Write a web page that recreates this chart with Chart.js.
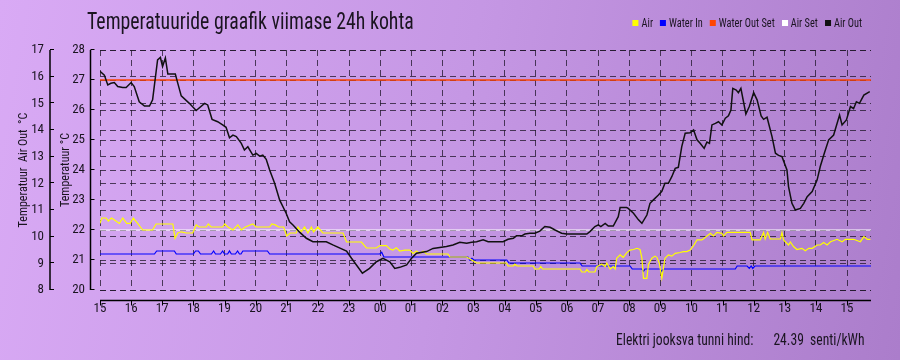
<!DOCTYPE html>
<html><head><meta charset="utf-8">
<script src="https://cdn.jsdelivr.net/npm/chart.js@4.4.1/dist/chart.umd.min.js"></script>
<style>
html,body{margin:0;padding:0;}
body{width:900px;height:360px;overflow:hidden;position:relative;
 background:linear-gradient(100deg,#d9aaf5 0%,#c597e4 50%,#ab7dcb 100%);
 font-family:"Roboto Condensed","DejaVu Sans Condensed",sans-serif;color:#1a1420;}
#c{position:absolute;left:0;top:0;}
#title{position:absolute;left:87px;top:7px;font-size:24px;white-space:nowrap;transform:scaleX(0.825);transform-origin:0 0;}
#legend{position:absolute;right:38px;top:15.5px;display:flex;align-items:center;font-size:12px;white-space:nowrap;transform:scaleX(0.86);transform-origin:100% 0;}
#legend .it{display:flex;align-items:center;margin-left:8.2px;}
#legend .bx{width:7px;height:6px;margin-right:3.5px;}
#price{position:absolute;left:616px;top:329px;font-size:17px;white-space:nowrap;transform:scaleX(0.8);transform-origin:0 0;}
#price .v{margin-left:25px;}
</style></head>
<body>
<canvas id="c" width="900" height="360"></canvas>
<div id="title">Temperatuuride graafik viimase 24h kohta</div>
<div id="legend"></div>
<div id="price"><span>Elektri jooksva tunni hind:</span><span class="v"></span></div>
<script>
const hourLabels = ['15','16','17','18','19','20','21','22','23','00','01','02','03','04','05','06','07','08','09','10','11','12','13','14','15'];
const xMax = 24.77;
const tempTicks = [20,21,22,23,24,25,26,27,28];
const airOutTicks = [8,9,10,11,12,13,14,15,16,17];

const airOutT = [0.00,0.14,0.25,0.35,0.46,0.57,0.73,0.84,1.00,1.10,1.26,1.43,1.59,1.69,1.85,1.94,2.01,2.10,2.18,2.42,2.50,2.61,2.87,3.09,3.36,3.46,3.60,3.78,3.94,4.05,4.16,4.27,4.38,4.54,4.64,4.75,4.91,5.02,5.13,5.23,5.34,5.45,5.61,5.77,5.98,6.09,6.20,6.42,6.63,6.84,7.27,7.48,7.92,8.08,8.43,8.66,8.88,9.09,9.31,9.47,9.63,9.85,10.01,10.17,10.49,10.70,11.13,11.34,11.56,11.78,11.94,12.10,12.31,12.47,12.95,13.11,13.28,13.38,13.55,13.65,13.81,13.97,14.13,14.29,14.46,14.62,14.83,14.99,15.64,15.74,15.90,16.01,16.09,16.23,16.33,16.49,16.65,16.71,16.92,16.97,17.14,17.30,17.41,17.57,17.67,17.78,17.94,18.05,18.15,18.26,18.37,18.48,18.58,18.69,18.80,18.96,19.07,19.18,19.28,19.41,19.50,19.58,19.66,19.77,19.87,19.98,20.09,20.19,20.27,20.33,20.44,20.51,20.59,20.75,20.86,21.00,21.11,21.24,21.32,21.43,21.59,21.70,21.80,21.91,22.07,22.12,22.23,22.34,22.50,22.61,22.72,22.88,23.04,23.14,23.27,23.41,23.57,23.76,23.84,23.98,24.11,24.21,24.30,24.40,24.54,24.73];
const airOutV = [16.2,16.06,15.69,15.75,15.78,15.63,15.59,15.59,15.78,15.63,15.06,14.9,14.9,15.13,16.63,16.72,16.38,16.7,16.1,16.1,15.75,15.28,15.0,14.73,15.0,14.94,14.4,14.31,14.19,14.1,13.71,13.81,13.75,13.5,13.25,13.37,13.06,13.12,13.02,13.06,12.9,12.5,12.0,11.38,10.88,10.56,10.44,10.16,9.94,9.81,9.81,9.69,9.46,9.19,8.63,8.81,9.06,9.19,9.06,8.81,8.85,8.94,9.19,9.38,9.44,9.56,9.63,9.69,9.79,9.75,9.79,9.81,9.88,9.81,9.81,9.9,9.94,10.03,10.03,10.1,10.13,10.13,10.21,10.38,10.35,10.25,10.13,10.1,10.1,10.19,10.38,10.44,10.38,10.5,10.4,10.4,10.75,11.09,11.09,11.06,10.88,10.63,10.5,10.81,11.25,11.38,11.56,11.7,12.0,12.0,12.25,12.56,12.6,13.38,13.88,13.9,14.0,13.63,13.5,13.31,13.55,13.5,14.19,14.25,14.31,14.19,14.44,14.53,14.75,15.56,15.5,15.4,15.56,14.6,14.88,15.4,15.13,14.53,14.4,14.48,13.75,13.13,13.05,13.0,12.5,11.88,11.25,11.0,11.06,11.25,11.5,11.69,12.13,12.63,13.13,13.63,13.81,14.56,14.19,14.38,14.88,14.8,15.06,15.0,15.31,15.44];

const airT = [0.00,0.06,0.19,0.27,0.37,0.51,0.62,0.73,0.86,0.97,1.07,1.21,1.37,1.69,1.80,2.34,2.41,2.50,2.61,2.77,2.98,3.09,3.19,3.41,3.48,3.57,3.94,4.01,4.11,4.27,4.43,4.54,4.67,4.91,5.02,5.45,5.52,5.63,5.74,5.90,6.00,6.11,6.31,6.36,6.47,6.57,6.68,6.79,6.86,7.00,7.16,7.81,7.92,8.40,8.56,8.88,8.99,9.20,9.31,9.41,9.52,9.63,9.79,9.95,10.06,10.17,10.27,10.38,10.49,11.18,11.24,11.78,11.94,12.10,13.06,13.11,13.28,13.33,13.40,13.92,13.97,14.11,14.16,14.22,15.42,15.48,15.59,15.64,15.71,15.90,15.96,16.12,16.23,16.28,16.39,16.49,16.55,16.60,16.71,16.81,16.92,17.03,17.14,17.25,17.35,17.41,17.46,17.57,17.62,17.73,17.83,17.89,17.97,18.05,18.10,18.15,18.26,18.37,18.48,18.64,18.74,18.85,18.96,19.07,19.18,19.34,19.50,19.61,19.71,19.82,19.98,20.03,20.14,20.89,20.95,21.21,21.32,21.37,21.45,21.53,21.86,21.91,21.96,22.12,22.18,22.28,22.39,22.55,22.66,22.77,22.88,23.04,23.14,23.25,23.36,23.47,23.68,23.84,23.95,24.21,24.43,24.54,24.65,24.75];
const airV = [22.22,22.4,22.4,22.3,22.4,22.3,22.22,22.4,22.22,22.22,22.4,22.22,22.0,22.0,22.2,22.2,21.72,21.9,21.94,21.9,21.9,22.17,22.1,22.1,22.2,22.1,22.1,22.2,22.1,22.0,22.17,22.0,22.1,22.2,22.1,22.1,22.2,22.17,22.1,22.1,21.8,21.9,21.9,22.1,21.94,22.1,21.9,22.1,21.94,22.1,21.9,21.9,21.6,21.6,21.4,21.4,21.48,21.48,21.37,21.33,21.41,21.3,21.33,21.33,21.22,21.3,21.22,21.3,21.2,21.2,21.1,21.1,21.0,20.9,20.9,20.8,20.8,20.86,20.8,20.8,20.7,20.7,20.78,20.7,20.7,20.6,20.6,20.68,20.6,20.6,20.78,20.86,20.78,20.9,20.7,20.78,20.7,21.06,21.17,21.09,21.24,21.33,21.35,21.39,21.35,21.06,20.39,20.39,20.85,21.06,21.13,21.09,20.89,20.39,20.72,21.06,21.17,21.13,21.22,21.25,21.28,21.28,21.33,21.48,21.67,21.67,21.8,21.89,21.8,21.92,21.89,21.8,21.92,21.92,21.67,21.67,21.92,21.7,21.92,21.7,21.7,21.92,21.67,21.5,21.6,21.45,21.35,21.39,21.31,21.39,21.39,21.5,21.5,21.58,21.5,21.61,21.69,21.61,21.69,21.69,21.61,21.78,21.69,21.69];

const waterInT = [0.00,1.75,1.82,2.39,2.45,3.00,3.07,3.16,3.23,3.58,3.65,3.71,3.87,3.94,4.00,4.10,4.16,4.22,4.35,4.42,4.48,4.53,4.59,5.38,5.45,8.99,9.05,9.12,11.82,11.88,11.95,12.01,13.07,13.14,15.42,15.49,17.03,17.10,17.41,17.46,17.51,17.99,18.05,18.10,20.41,20.47,20.79,20.86,20.92,20.97,21.04,24.77];
const waterInV = [21.2,21.2,21.3,21.3,21.2,21.2,21.3,21.3,21.2,21.2,21.3,21.2,21.2,21.3,21.2,21.2,21.3,21.2,21.2,21.3,21.2,21.2,21.3,21.3,21.2,21.2,21.26,21.1,21.1,21.0,21.06,21.0,21.0,20.9,20.9,20.8,20.8,20.7,20.7,20.62,20.7,20.7,20.62,20.7,20.7,20.8,20.8,20.72,20.8,20.72,20.8,20.8];

const waterOutSetT = [0, 24.77];
const waterOutSetV = [27.0, 27.0];
const airSetT = [0, 24.77];
const airSetV = [22.0, 22.0];

const seriesNames = ['Air','Water In','Water Out Set','Air Set','Air Out'];
const seriesColors = ['#ffff00','#0000ff','#ff4500','#ffffff','#111111'];
const priceValue = '24.39';
const priceUnit = 'senti/kWh';

const FONT = '"Roboto Condensed","DejaVu Sans Condensed",sans-serif';
const INK = '#1a1420';
const GRID = 'rgba(30,20,40,0.75)';

function pts(t, v){ return t.map((x,i)=>({x:x, y:v[i]})); }

document.querySelector('#price .v').innerHTML = priceValue + '&nbsp; ' + priceUnit;

const lg = document.getElementById('legend');
seriesNames.forEach((n,i)=>{
  const d = document.createElement('div'); d.className='it';
  d.innerHTML = '<span class="bx" style="background:'+seriesColors[i]+'"></span><span>'+n+'</span>';
  lg.appendChild(d);
});

const axisPlugin = {
  id:'axisLines',
  afterDatasetsDraw(chart){
    const ctx = chart.ctx, ca = chart.chartArea;
    const xs = chart.scales.x, yT = chart.scales.yT, yO = chart.scales.yO;
    ctx.save();
    ctx.strokeStyle = '#000'; ctx.lineWidth = 1.5; ctx.setLineDash([]);
    const ay = ca.bottom + 10.5;
    ctx.beginPath(); ctx.moveTo(xs.getPixelForValue(0), ay); ctx.lineTo(ca.right, ay); ctx.stroke();
    ctx.lineWidth = 1;
    xs.ticks.forEach(t=>{ const px = Math.round(xs.getPixelForValue(t.value))+0.5;
      ctx.beginPath(); ctx.moveTo(px, ay); ctx.lineTo(px, ay+5); ctx.stroke(); });
    const drawY = (sc, ax, vals)=>{
      ctx.lineWidth = 1.5;
      ctx.beginPath(); ctx.moveTo(ax, sc.getPixelForValue(vals[vals.length-1])); ctx.lineTo(ax, sc.getPixelForValue(vals[0])); ctx.stroke();
      ctx.lineWidth = 1;
      vals.forEach(v=>{ const py = Math.round(sc.getPixelForValue(v))-0.5;
        ctx.beginPath(); ctx.moveTo(ax, py); ctx.lineTo(ax+4, py); ctx.stroke(); });
    };
    drawY(yT, ca.left - 9.5, tempTicks);
    drawY(yO, yO.right - 6, airOutTicks);
    ctx.restore();
  }
};

const tickFont = {family: FONT, size: 13};
new Chart(document.getElementById('c'), {
  type:'line',
  data:{ datasets:[
    {label:seriesNames[4], data:pts(airOutT,airOutV), yAxisID:'yO', borderColor:seriesColors[4], borderWidth:1.5, order:0},
    {label:seriesNames[0], data:pts(airT,airV), yAxisID:'yT', borderColor:seriesColors[0], borderWidth:1.2, order:1},
    {label:seriesNames[1], data:pts(waterInT,waterInV), yAxisID:'yT', borderColor:seriesColors[1], borderWidth:1.2, order:2},
    {label:seriesNames[2], data:pts(waterOutSetT,waterOutSetV), yAxisID:'yT', borderColor:seriesColors[2], borderWidth:1.5, order:3},
    {label:seriesNames[3], data:pts(airSetT,airSetV), yAxisID:'yT', borderColor:seriesColors[3], borderWidth:1.2, order:4}
  ]},
  options:{
    responsive:false, animation:false, devicePixelRatio:1,
    layout:{padding:{top:50,right:29,bottom:40,left:0}},
    elements:{point:{radius:0}, line:{tension:0, fill:false}},
    plugins:{legend:{display:false}, tooltip:{enabled:false}},
    scales:{
      x:{type:'linear', min:0, max:xMax,
        afterBuildTicks(s){ s.ticks = hourLabels.map((_,i)=>({value:i})); },
        afterFit(s){ s.height = 30; },
        ticks:{autoSkip:false, maxRotation:0, padding:11, color:INK, font:tickFont, callback:(v,i)=>hourLabels[i]},
        grid:{color:GRID, lineWidth:1, drawTicks:false},
        border:{display:false, dash:[6,4]}
      },
      yT:{type:'linear', position:'left', weight:0, min:20, max:28,
        afterBuildTicks(s){ s.ticks = tempTicks.map(v=>({value:v})); },
        afterFit(s){ s.width = 44; },
        ticks:{padding:15, color:INK, font:tickFont},
        grid:{color:GRID, lineWidth:1, drawTicks:false},
        border:{display:false, dash:[6,4]},
        title:{display:true, text:'Temperatuur °C', color:INK, font:{family:FONT, size:12}, padding:{top:2.8,bottom:0}}
      },
      yO:{type:'linear', position:'left', weight:1, min:8, max:17,
        afterBuildTicks(s){ s.ticks = airOutTicks.map(v=>({value:v})); },
        afterFit(s){ s.width = 56; },
        ticks:{padding:12, color:INK, font:tickFont},
        grid:{color:GRID, lineWidth:1, drawTicks:false},
        border:{display:false, dash:[6,4]},
        title:{display:true, text:'Temperatuur  Air Out  °C', color:INK, font:{family:FONT, size:12}, padding:{top:16.8,bottom:0}}
      }
    }
  },
  plugins:[axisPlugin]
});
</script>
</body></html>
